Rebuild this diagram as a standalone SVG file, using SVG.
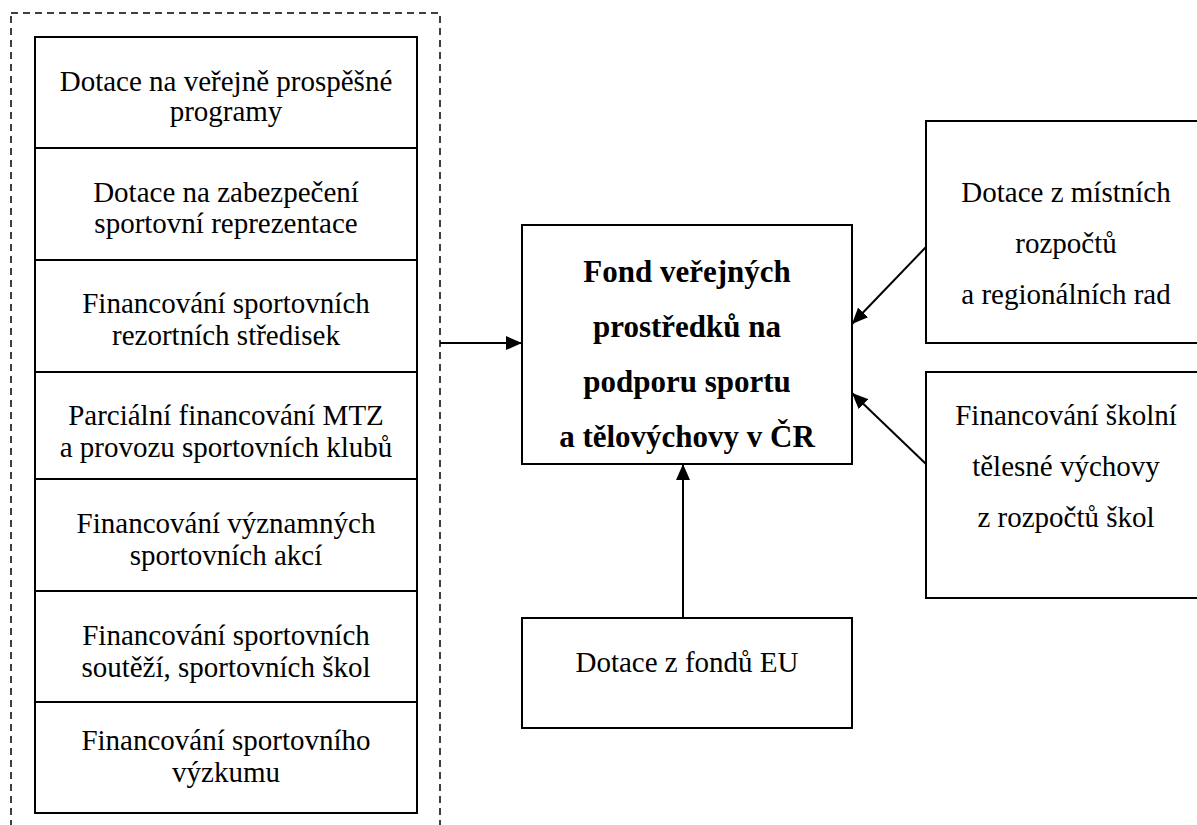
<svg xmlns="http://www.w3.org/2000/svg" width="1197" height="825" viewBox="0 0 1197 825">
<style>
.box{fill:#fff;stroke:#000;stroke-width:2}
text{font-family:'Liberation Serif','Times New Roman',Tinos,serif;fill:#000;text-anchor:middle}
.t{font-size:29px;font-weight:normal;font-style:normal}
.b{font-size:31px;font-weight:bold}
.c{stroke:#000;stroke-width:2;fill:none}
</style>
<defs>
<marker id="ah" viewBox="0 0 16 14" refX="16" refY="7" markerWidth="16" markerHeight="14" markerUnits="userSpaceOnUse" orient="auto">
<path d="M0,0 L16,7 L0,14 Z" fill="#000"/>
</marker>
</defs>
<g id="group-dashed">
<rect x="11" y="13" width="429" height="830" fill="none" stroke="#000" stroke-width="1.5" stroke-dasharray="7 5"/>
</g>
<g id="n1"><rect class="box" x="35" y="37" width="382" height="111"/><text class="t" x="226" y="91">Dotace na veřejně prospěšné</text><text class="t" x="226" y="121">programy</text></g>
<g id="n2"><rect class="box" x="35" y="148" width="382" height="112"/><text class="t" x="226" y="202">Dotace na zabezpečení</text><text class="t" x="226" y="233">sportovní reprezentace</text></g>
<g id="n3"><rect class="box" x="35" y="260" width="382" height="112"/><text class="t" x="226" y="313">Financování sportovních</text><text class="t" x="226" y="345">rezortních středisek</text></g>
<g id="n4"><rect class="box" x="35" y="372" width="382" height="107"/><text class="t" x="226" y="425">Parciální financování MTZ</text><text class="t" x="226" y="457">a provozu sportovních klubů</text></g>
<g id="n5"><rect class="box" x="35" y="479" width="382" height="112"/><text class="t" x="226" y="533">Financování významných</text><text class="t" x="226" y="565">sportovních akcí</text></g>
<g id="n6"><rect class="box" x="35" y="591" width="382" height="111"/><text class="t" x="226" y="645">Financování sportovních</text><text class="t" x="226" y="677">soutěží, sportovních škol</text></g>
<g id="n7"><rect class="box" x="35" y="702" width="382" height="111"/><text class="t" x="226" y="750">Financování sportovního</text><text class="t" x="226" y="782">výzkumu</text></g>
<g id="center"><rect class="box" x="522" y="225" width="330" height="239"/>
<text class="b" x="687" y="282">Fond veřejných</text>
<text class="b" x="687" y="337">prostředků na</text>
<text class="b" x="687" y="392">podporu sportu</text>
<text class="b" x="687" y="447">a tělovýchovy v ČR</text></g>
<g id="local"><rect class="box" x="926" y="121" width="280" height="222"/>
<text class="t" x="1066" y="202">Dotace z místních</text>
<text class="t" x="1066" y="253">rozpočtů</text>
<text class="t" x="1066" y="304">a regionálních rad</text></g>
<g id="school"><rect class="box" x="926" y="372" width="280" height="226"/>
<text class="t" x="1066" y="425">Financování školní</text>
<text class="t" x="1066" y="476">tělesné výchovy</text>
<text class="t" x="1066" y="527">z rozpočtů škol</text></g>
<g id="eu"><rect class="box" x="522" y="618" width="330" height="110"/>
<text class="t" x="687" y="672">Dotace z fondů EU</text></g>
<g id="connectors">
<line class="c" x1="440" y1="343" x2="522" y2="343" marker-end="url(#ah)"/>
<line class="c" x1="926" y1="247" x2="852" y2="324" marker-end="url(#ah)"/>
<line class="c" x1="926" y1="464" x2="852" y2="393" marker-end="url(#ah)"/>
<line class="c" x1="683" y1="618" x2="683" y2="464" marker-end="url(#ah)"/>
</g>
</svg>
